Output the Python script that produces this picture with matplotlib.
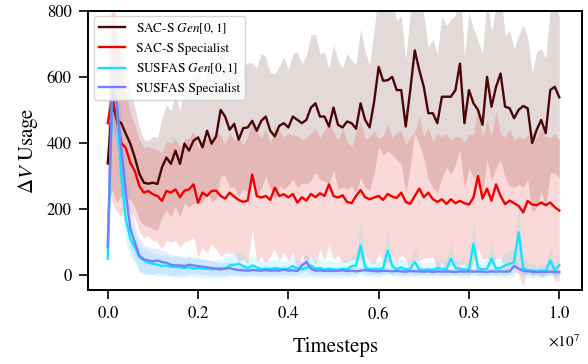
import matplotlib
matplotlib.use("Agg")
import matplotlib.pyplot as plt
import numpy as np
from matplotlib.ticker import MultipleLocator

plt.rcParams["font.family"] = ["STIXGeneral", "DejaVu Sans"]
plt.rcParams["mathtext.fontset"] = "stix"

# evaluation checkpoints, every 1e5 timesteps
steps = np.arange(101) * 1e5

sacs_gen = [338, 520, 470, 460, 428, 398, 356, 307, 280, 277, 280,
            276, 326, 356, 337, 377, 337, 398, 377, 407, 417,
            387, 437, 398, 420, 500, 480, 440, 458, 410, 445,
            447, 467, 437, 467, 480, 437, 420, 452, 460, 447,
            480, 470, 460, 470, 507, 520, 480, 480, 450, 507,
            455, 447, 465, 460, 443, 520, 470, 447, 525, 630,
            588, 590, 600, 560, 560, 450, 560, 680, 620, 570,
            490, 490, 460, 540, 540, 540, 560, 640, 460, 560,
            520, 500, 455, 600, 510, 570, 610, 510, 505, 475,
            500, 512, 505, 400, 440, 470, 430, 560, 570, 538]
sacs_gen_std = [150, 260, 250, 220, 190, 170, 150, 140, 130, 130, 140,
                140, 150, 160, 160, 170, 160, 180, 170, 190, 200,
                170, 185, 175, 190, 200, 180, 175, 190, 170, 185,
                195, 175, 190, 205, 180, 175, 190, 180, 200, 175,
                190, 205, 180, 195, 220, 210, 190, 195, 175, 190,
                195, 180, 205, 190, 195, 225, 205, 190, 215, 240,
                225, 215, 235, 210, 225, 200, 235, 250, 225, 215,
                200, 225, 210, 245, 215, 235, 225, 260, 200, 235,
                225, 210, 215, 250, 225, 245, 260, 215, 235, 210,
                225, 245, 215, 210, 235, 215, 225, 250, 260, 245]

sacs_spec = [460, 540, 470, 400, 385, 340, 315, 270, 250, 255, 245,
             240, 225, 255, 250, 260, 236, 256, 260, 275, 220,
             250, 240, 255, 256, 240, 232, 250, 238, 228, 222,
             226, 305, 240, 235, 240, 228, 265, 240, 245, 236,
             246, 220, 236, 226, 246, 236, 248, 240, 275, 240,
             235, 242, 222, 218, 240, 258, 236, 230, 235, 240,
             228, 246, 238, 234, 250, 222, 216, 240, 262, 236,
             250, 230, 222, 230, 216, 230, 218, 225, 218, 214,
             235, 300, 232, 262, 226, 275, 240, 215, 226, 218,
             210, 190, 225, 214, 212, 220, 212, 220, 206, 196]
sacs_spec_std = [150, 320, 280, 220, 170, 150, 140, 140, 135, 135, 140,
                 140, 145, 150, 150, 155, 150, 155, 155, 160, 165,
                 165, 172, 160, 178, 183, 165, 183, 170, 188, 173,
                 193, 165, 198, 178, 203, 170, 188, 198, 173, 193,
                 178, 203, 173, 193, 183, 208, 168, 198, 183, 193,
                 173, 203, 183, 170, 193, 208, 178, 188, 203, 173,
                 193, 213, 178, 198, 188, 173, 203, 193, 218, 183,
                 198, 173, 208, 188, 213, 178, 203, 193, 183, 213,
                 193, 218, 183, 208, 193, 223, 188, 203, 218, 193,
                 208, 223, 198, 218, 203, 228, 208, 198, 223, 213]

susfas_gen = [50, 560, 520, 300, 170, 110, 85, 55, 45, 38, 35,
              32, 28, 30, 25, 26, 24, 22, 25, 20, 22,
              20, 20, 18, 20, 22, 20, 30, 32, 35, 28,
              22, 30, 24, 18, 20, 18, 22, 20, 18, 20,
              28, 20, 18, 22, 30, 20, 22, 18, 20, 18,
              16, 20, 18, 28, 30, 90, 25, 18, 20, 18,
              22, 75, 28, 18, 24, 18, 20, 40, 18, 16,
              18, 16, 22, 20, 18, 50, 22, 20, 18, 16,
              95, 22, 18, 20, 50, 20, 22, 30, 35, 40,
              130, 22, 16, 14, 12, 14, 12, 45, 15, 30]
susfas_gen_std = [30, 120, 130, 100, 70, 55, 45, 40, 38, 36, 34,
                  34, 32, 32, 30, 32, 30, 28, 30, 27, 28,
                  27, 28, 26, 27, 29, 27, 32, 36, 38, 33,
                  28, 32, 27, 25, 26, 25, 28, 26, 25, 26,
                  32, 26, 25, 28, 33, 26, 28, 25, 26, 25,
                  23, 26, 25, 32, 36, 75, 28, 23, 25, 23,
                  26, 65, 32, 23, 28, 23, 25, 45, 23, 22,
                  23, 22, 26, 25, 23, 48, 26, 25, 23, 22,
                  75, 26, 23, 25, 48, 25, 26, 36, 40, 44,
                  85, 26, 22, 20, 19, 20, 19, 40, 20, 32]

susfas_spec = [85, 560, 520, 380, 250, 140, 100, 60, 48, 45, 42,
               45, 40, 38, 32, 30, 30, 28, 32, 30, 28,
               26, 24, 22, 20, 18, 20, 22, 18, 16, 15,
               14, 16, 15, 14, 16, 14, 15, 14, 18, 14,
               15, 13, 30, 40, 20, 14, 15, 13, 14, 13,
               14, 15, 13, 14, 12, 14, 16, 14, 13, 12,
               14, 13, 12, 13, 12, 11, 13, 12, 12, 11,
               12, 10, 12, 11, 12, 11, 10, 12, 11, 12,
               11, 12, 11, 10, 12, 11, 12, 11, 12, 28,
               20, 14, 12, 11, 10, 11, 10, 11, 10, 10]
susfas_spec_std = [30, 110, 120, 100, 80, 65, 55, 50, 45, 42, 40,
                   38, 36, 34, 32, 30, 29, 28, 27, 26, 25,
                   24, 23, 22, 20, 19, 19, 20, 17, 16, 15,
                   14, 15, 14, 13, 14, 13, 13, 12, 14, 13,
                   13, 12, 22, 26, 16, 13, 12, 11, 12, 11,
                   11, 12, 11, 11, 10, 11, 12, 11, 10, 11,
                   11, 10, 11, 10, 11, 10, 10, 11, 10, 10,
                   11, 10, 10, 11, 10, 10, 9, 10, 10, 11,
                   10, 11, 10, 10, 11, 10, 10, 11, 10, 18,
                   15, 11, 10, 10, 9, 10, 9, 10, 9, 9]

series = [
    (r"SAC-S $Gen[0,1]$", sacs_gen, sacs_gen_std, "#4b0505"),
    ("SAC-S Specialist", sacs_spec, sacs_spec_std, "#f00000"),
    (r"SUSFAS $Gen[0,1]$", susfas_gen, susfas_gen_std, "#12e4ff"),
    ("SUSFAS Specialist", susfas_spec, susfas_spec_std, "#7080ff"),
]

fig = plt.figure(figsize=(5.88, 3.64), dpi=100)
ax = fig.add_axes([0.1502, 0.2041, 0.8401, 0.7665])

for label, mean, std, color in series:
    mean = np.asarray(mean, dtype=float)
    std = np.asarray(std, dtype=float)
    ax.fill_between(steps, mean - std, mean + std, color=color, alpha=0.15, linewidth=0)
    ax.plot(steps, mean, color=color, linewidth=1.7, label=label)

ax.set_xlim(-0.043e7, 1.051e7)
ax.set_ylim(-43.5, 800)
ax.xaxis.set_major_locator(MultipleLocator(2e6))
ax.yaxis.set_major_locator(MultipleLocator(200))
ax.ticklabel_format(axis="x", style="sci", scilimits=(0, 0), useMathText=True)
ax.xaxis.get_offset_text().set_visible(False)
ax.text(0.995, -0.187, r"$\times10^{7}$", transform=ax.transAxes,
        ha="right", va="center", fontsize=11)
ax.tick_params(labelsize=12, length=6.5, width=1.2, direction="out", pad=5.5)
for sp in ax.spines.values():
    sp.set_linewidth(1.4)

ax.set_xlabel("Timesteps", fontsize=15, labelpad=10)
ax.set_ylabel(r"$\Delta V$ Usage", fontsize=15, labelpad=5)

ax.legend(loc="upper left", fontsize=9.5, framealpha=0.8, edgecolor="#cccccc",
          borderaxespad=0.4)

fig.savefig("out.png", dpi=100)
